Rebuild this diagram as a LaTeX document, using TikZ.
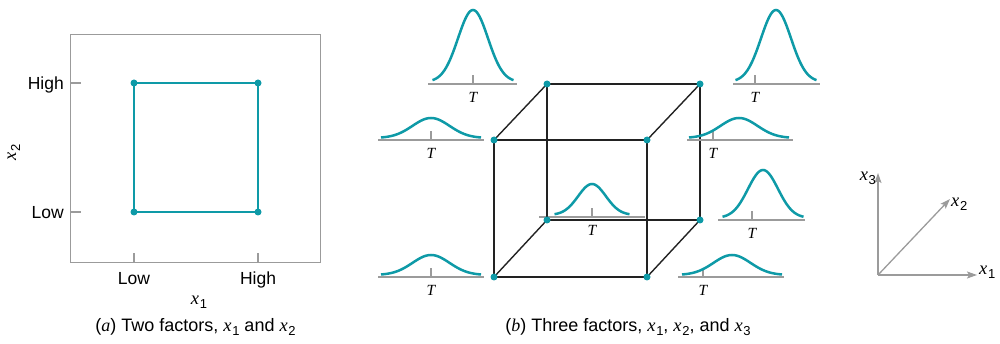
\documentclass[tikz,border=0pt]{standalone}
\usepackage{fontspec}
\setmainfont{Liberation Sans}
\newfontfamily\tmsfont{Liberation Serif}
\usetikzlibrary{arrows.meta}
\definecolor{teal1}{HTML}{0E9AA7}
\definecolor{gray1}{HTML}{9B9B9B}
\definecolor{dark1}{HTML}{222222}
\newcommand\myxs[1]{{\fontsize{18.5}{20}\selectfont\tmsfont\itshape x}\kern0.6pt\raisebox{-4pt}{\fontsize{13}{14}\selectfont #1}}
\newcommand\myT{{\tmsfont\itshape T}}
\newcommand\mybell[8]{%
  \draw[gline] (#7,#3) -- (#8,#3);
  \draw[gline] (#6,#3) -- (#6,#3-9);
  \draw[bellline] plot[domain=-#4:#4, samples=61, smooth]
    ({#2+\x},{#3-2-#5*exp(-0.5*((\x)/(#4/2.7))*((\x)/(#4/2.7)))});
  \node[tlabel] (#1) at (#6,#3+13.5) {\myT};
}
\begin{document}
\begin{tikzpicture}[x=1pt,y=-1pt,
  lbl/.style={inner sep=0pt, font=\fontsize{17.5}{20}\selectfont},
  caplbl/.style={inner sep=0pt, font=\fontsize{18}{20}\selectfont},
  tlabel/.style={inner sep=0pt, font=\fontsize{15.5}{18}\selectfont},
  gline/.style={draw=gray1, line width=1.3pt},
  bellline/.style={draw=teal1, line width=2.5pt},
  sqline/.style={draw=teal1, line width=2.6pt},
  cubeline/.style={draw=dark1, line width=1.4pt},
  dot/.style={circle, fill=teal1, inner sep=0pt, minimum size=7pt},
  axisline/.style={draw=gray1, line width=1.3pt, -{Stealth[length=10pt,width=7pt,inset=2pt]}}]
\useasboundingbox (0,0) rectangle (1000,344);
% ---------- (a) ----------
\node[draw=gray1, line width=1.3pt, minimum width=250pt, minimum height=228pt, inner sep=0pt, anchor=north west] (frame) at (70,34) {};
\draw[gline] (70,83) -- (81,83);
\draw[gline] (70,212) -- (81,212);
\draw[gline] (134,262) -- (134,253);
\draw[gline] (258,262) -- (258,253);
\coordinate (sUL) at (134,83);
\coordinate (sUR) at (258,83);
\coordinate (sLL) at (134,212);
\coordinate (sLR) at (258,212);
\draw[sqline] (sUL) -- (sUR) -- (sLR) -- (sLL) -- cycle;
\foreach \c in {sUL,sUR,sLL,sLR} \node[dot] (d\c) at (\c) {};
\node[lbl, anchor=base east] (yhigh) at (64,90) {High};
\node[lbl, anchor=base east] (ylow) at (64,219) {Low};
\node[lbl, anchor=base] (xlow) at (134,285) {Low};
\node[lbl, anchor=base] (xhigh) at (258,285) {High};
\node[lbl, anchor=base] (xone) at (199,305) {\myxs{1}};
\node[lbl, rotate=90] (xtwo) at (14,152) {\myxs{2}};
\node[caplbl, anchor=base] (capa) at (195.5,331) {({\tmsfont\itshape a}) Two factors, \myxs{1} and \myxs{2}};
% ---------- (b) cube ----------
\coordinate (fTL) at (494,140);
\coordinate (fTR) at (647,140);
\coordinate (fBL) at (494,277);
\coordinate (fBR) at (647,277);
\coordinate (bTL) at (547,84);
\coordinate (bTR) at (700,84);
\coordinate (bBL) at (547,220);
\coordinate (bBR) at (700,220);
\mybell{t5}{592}{217}{37.5}{31}{592}{539}{645}
\draw[cubeline] (fTL) -- (fTR) -- (fBR) -- (fBL) -- cycle;
\draw[cubeline] (bTL) -- (bTR) -- (bBR) -- (bBL) -- cycle;
\draw[cubeline] (fTL) -- (bTL);
\draw[cubeline] (fTR) -- (bTR);
\draw[cubeline] (fBL) -- (bBL);
\draw[cubeline] (fBR) -- (bBR);
\foreach \c in {fTL,fTR,fBL,fBR,bTL,bTR,bBL,bBR} \node[dot] (d\c) at (\c) {};
% bell curves
\mybell{t1}{473}{84}{40.5}{72}{473}{428}{517}
\mybell{t2}{431}{140}{50}{20}{431}{378}{484}
\mybell{t3}{776}{84}{40.5}{72}{755}{733}{820}
\mybell{t4}{739}{140}{50}{20}{713}{687}{793}
\mybell{t6}{431}{277}{50}{20}{431}{378}{484}
\mybell{t7}{763}{220}{40.5}{48}{752}{718}{805}
\mybell{t8}{732}{277}{50}{20}{703}{678}{784}
\node[caplbl, anchor=base] (capb) at (628,331) {({\tmsfont\itshape b}) Three factors, \myxs{1}, \myxs{2}, and \myxs{3}};
% ---------- axes ----------
\coordinate (O) at (878,275);
\coordinate (a1) at (977,275);
\coordinate (a2) at (950,199);
\coordinate (a3) at (878,173);
\draw[axisline] (O) -- (a1);
\draw[axisline] (O) -- (a2);
\draw[axisline] (O) -- (a3);
\node[lbl, anchor=west] (l1) at (979,272) {\myxs{1}};
\node[lbl, anchor=west] (l2) at (951,204) {\myxs{2}};
\node[lbl, anchor=east] (l3) at (876,178) {\myxs{3}};
\end{tikzpicture}
\end{document}
